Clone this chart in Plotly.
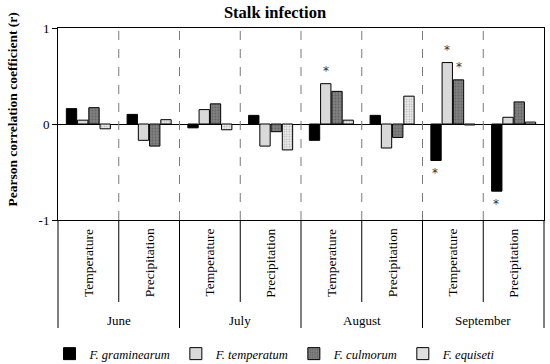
import plotly.graph_objects as go

months = ["June", "July", "August", "September"]
variables = ["Temperature", "Precipitation"]
categories = [f"{m} {v}" for m in months for v in variables]

species = ["F. graminearum", "F. temperatum", "F. culmorum", "F. equiseti"]
graminearum = [0.16, 0.10, -0.04, 0.09, -0.17, 0.09, -0.38, -0.70]
temperatum = [0.04, -0.17, 0.15, -0.23, 0.42, -0.25, 0.64, 0.07]
culmorum = [0.17, -0.23, 0.21, -0.08, 0.34, -0.14, 0.46, 0.23]
equiseti = [-0.05, 0.045, -0.06, -0.27, 0.04, 0.29, -0.01, 0.02]
values = [graminearum, temperatum, culmorum, equiseti]

# significant correlations (category index per species)
significant = {
    "F. graminearum": [6, 7],
    "F. temperatum": [4, 6],
    "F. culmorum": [6],
    "F. equiseti": [],
}

FONT = "Liberation Serif"
fills = ["#000000", "#d9d9d9", "#808080", "#eeeeee"]
patterns = ["", "", ".", "."]
pfg = ["#000000", "#000000", "#4a4a4a", "#6a6a6a"]
psize = [4, 4, 3, 2.5]

fig = go.Figure()
for i, sp in enumerate(species):
    fig.add_trace(go.Bar(
        x=categories, y=values[i], name=sp,
        marker=dict(color=fills[i], line=dict(color="#000000", width=1),
                    pattern=dict(shape=patterns[i], fgcolor=pfg[i], bgcolor=fills[i],
                                 size=psize[i], solidity=0.3)),
    ))

shapes = []
# dashed separators inside plot
for k in range(len(categories) - 1):
    shapes.append(dict(type="line", xref="x", yref="paper", x0=k + 0.5, x1=k + 0.5,
                       y0=0, y1=1, line=dict(color="#7a7a7a", width=1, dash="dash")))
# separators below axis
for k in range(len(categories) - 1):
    long = (k % 2 == 1)
    shapes.append(dict(type="line", xref="x", yref="paper", x0=k + 0.5, x1=k + 0.5,
                       y0=0, y1=-0.5625 if long else -0.427,
                       line=dict(color="#000000", width=1)))
for xp in [0, 1]:
    shapes.append(dict(type="line", xref="paper", yref="paper", x0=xp, x1=xp,
                       y0=0, y1=-0.5625, line=dict(color="#000000", width=1)))

annotations = []
for k, c in enumerate(categories):
    annotations.append(dict(x=k, xref="x", y=-0.035, yref="paper", text=variables[k % 2],
                            textangle=-90, showarrow=False, xanchor="center", yanchor="top",
                            font=dict(family=FONT, size=13.5, color="#000")))
for j, m in enumerate(months):
    annotations.append(dict(x=2 * j + 0.5, xref="x", y=-0.521, yref="paper", text=m,
                            showarrow=False, xanchor="center", yanchor="middle",
                            font=dict(family=FONT, size=13, color="#000")))
# significance stars
offsets = [-17.5, -5.8, 5.8, 17.5]
for i, sp in enumerate(species):
    for k in significant[sp]:
        v = values[i][k]
        annotations.append(dict(x=k, xref="x", y=v, yref="y", text="*", showarrow=False,
                                xanchor="center", yanchor="bottom" if v > 0 else "top",
                                xshift=offsets[i], yshift=4 if v > 0 else -4,
                                font=dict(family="DejaVu Sans", size=12, color="#333")))
annotations.append(dict(x=-0.0935, xref="paper", y=0.573, yref="paper",
                        text="<b>Pearson correlation coefficient (r)</b>", textangle=-90,
                        showarrow=False, xanchor="center", yanchor="middle",
                        font=dict(family=FONT, size=13.5, color="#000")))

fig.update_layout(
    width=550, height=364,
    margin=dict(l=57.5, r=6, t=28, b=144, autoexpand=False),
    paper_bgcolor="white", plot_bgcolor="white",
    barmode="group", bargap=0.26, bargroupgap=0.08,
    title=dict(text="<b>Stalk infection</b>", x=0.5, xref="container", xanchor="center",
               y=1 - 12 / 364, yref="container", yanchor="middle",
               font=dict(family=FONT, size=16.5, color="#000")),
    xaxis=dict(showticklabels=False, ticks="", showline=True, linecolor="#000",
               linewidth=1, mirror=True, showgrid=False, range=[-0.5, 7.5]),
    yaxis=dict(range=[-1, 1], tickvals=[-1, 0, 1], ticktext=["-1", "0", "1"],
               ticks="outside", ticklen=5, tickcolor="#000", showline=True,
               linecolor="#000", linewidth=1, mirror=True, showgrid=False,
               zeroline=True, zerolinecolor="#000", zerolinewidth=1,
               tickfont=dict(family=FONT, size=13, color="#000")),
    legend=dict(orientation="h", x=0.5, xref="container", xanchor="center",
                y=(220 - 354) / 192, yref="paper", yanchor="middle",
                font=dict(family=FONT, size=12.5, color="#000", style="italic"),
                tracegroupgap=0, itemwidth=30),
    shapes=shapes, annotations=annotations,
    showlegend=True,
)

fig.write_html("out.html", config={"displayModeBar": False},
               post_script="document.body.style.margin='0';document.body.style.overflow='hidden';")
